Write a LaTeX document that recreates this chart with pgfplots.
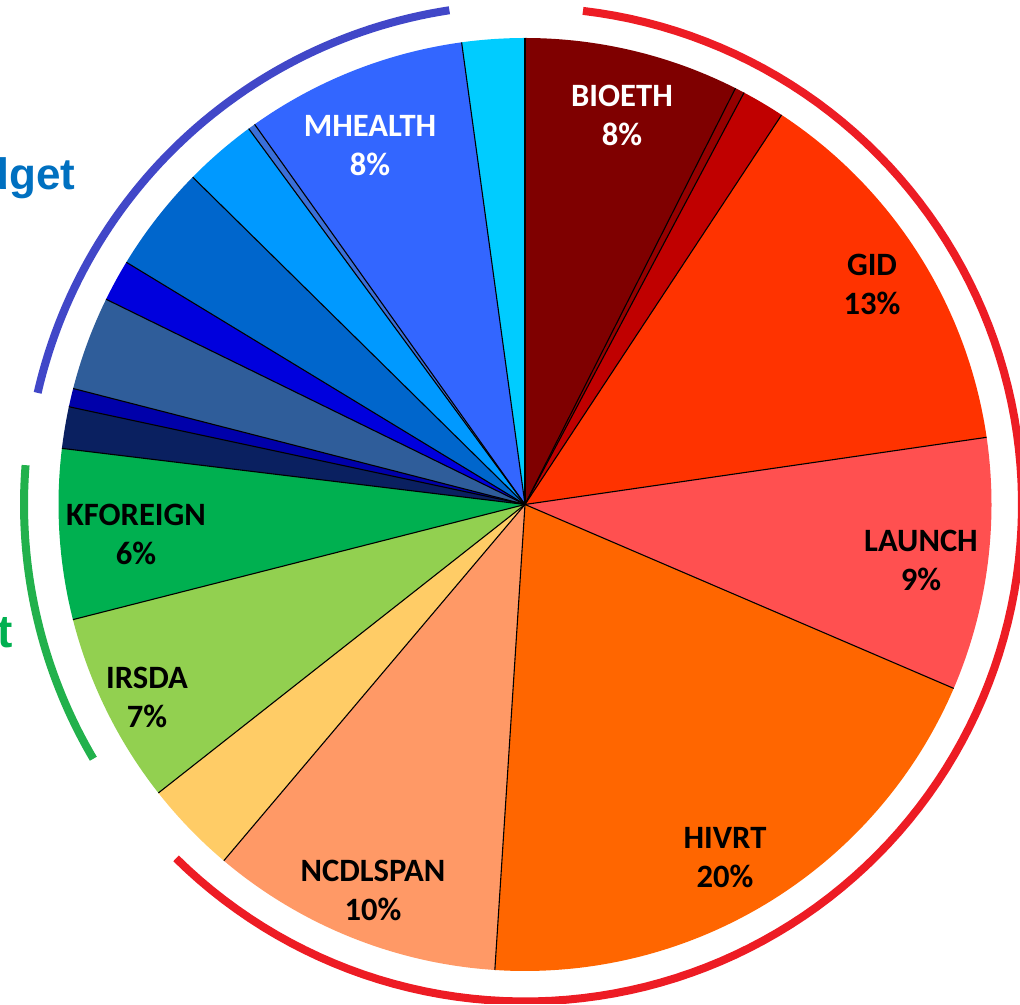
\documentclass[border=0pt]{standalone}
\usepackage{pgfplots}
\pgfplotsset{compat=1.18}
\usepackage{pgfplotstable}
\usepackage{fontspec}
\setmainfont{Carlito}
\newfontfamily\arialfont{Liberation Sans}

\definecolor{s1}{HTML}{7F0000}
\definecolor{s2}{HTML}{950000}
\definecolor{s3}{HTML}{C00000}
\definecolor{s4}{HTML}{FF3300}
\definecolor{s5}{HTML}{FF5050}
\definecolor{s6}{HTML}{FF6600}
\definecolor{s7}{HTML}{FF9966}
\definecolor{s8}{HTML}{FFCC66}
\definecolor{s9}{HTML}{92D050}
\definecolor{s10}{HTML}{00B050}
\definecolor{s11}{HTML}{0A2060}
\definecolor{s12}{HTML}{0000AA}
\definecolor{s13}{HTML}{2F5D9A}
\definecolor{s14}{HTML}{0000DD}
\definecolor{s15}{HTML}{0066CC}
\definecolor{s16}{HTML}{0099FF}
\definecolor{s17}{HTML}{3A6FD8}
\definecolor{s18}{HTML}{3366FF}
\definecolor{s19}{HTML}{00CCFF}
\definecolor{arcred}{HTML}{ED1C24}
\definecolor{arcblue}{HTML}{4147C8}
\definecolor{arcgreen}{HTML}{22B14C}
\definecolor{txtblue}{HTML}{0070C0}
\definecolor{txtgreen}{HTML}{00B050}

\pgfplotstableread{
pct col
7.45 s1
0.33 s2
1.49 s3
13.43 s4
8.75 s5
19.58 s6
10.14 s7
3.22 s8
6.64 s9
5.89 s10
1.44 s11
0.64 s12
3.25 s13
1.44 s14
3.69 s15
2.53 s16
0.25 s17
7.67 s18
2.17 s19
}\slices

\begin{document}
\begin{tikzpicture}
\begin{axis}[
  width=510pt, height=502pt, scale only axis,
  xmin=0, xmax=1020, ymin=0, ymax=1004,
  hide axis, clip=true,
]
% wedges
\def\cum{0}
\pgfplotsforeachungrouped \i in {0,...,18}{%
  \pgfplotstablegetelem{\i}{pct}\of\slices \let\p\pgfplotsretval
  \pgfplotstablegetelem{\i}{col}\of\slices \let\c\pgfplotsretval
  \pgfmathsetmacro\a{90-3.6*\cum}
  \pgfmathsetmacro\b{90-3.6*(\cum+\p)}
  \edef\temp{\noexpand\addplot[fill=\c, draw=none, domain=\b:\a, samples=80] ({525+466.5*cos(x)},{499.5+466.5*sin(x)}) -- (axis cs:525,499.5) -- cycle;}
  \temp
  \pgfmathsetmacro\cum{\cum+\p}
}
% radial boundaries
\def\cum{0}
\pgfplotsforeachungrouped \i in {0,...,18}{%
  \pgfplotstablegetelem{\i}{pct}\of\slices \let\p\pgfplotsretval
  \pgfmathsetmacro\a{90-3.6*\cum}
  \edef\temp{\noexpand\addplot[black, line width=0.55pt, domain=0:1, samples=2] ({525+466.5*x*cos(\a)},{499.5+466.5*x*sin(\a)});}
  \temp
  \pgfmathsetmacro\cum{\cum+\p}
}
% outer arcs
\addplot[arcred, line width=4pt, domain=-134.6:83.3, samples=120] ({525+497*cos(x)},{499.5+497*sin(x)});
\addplot[arcblue, line width=4pt, domain=98.7:167.1, samples=60] ({525+500*cos(x)},{499.5+500*sin(x)});
\addplot[arcgreen, line width=4pt, domain=175.5:210.5, samples=40] ({525+501*cos(x)},{499.5+501*sin(x)});

\coordinate (bud) at (axis cs:76,814);
\coordinate (gbud) at (axis cs:13,356);

\begin{scope}[every node/.style={align=center, font=\fontsize{16.3}{19.5}\selectfont\bfseries}]
\node[text=white] at (axis cs:622,889) {BIOETH\\8\%};
\node[text=white] at (axis cs:370,858) {MHEALTH\\8\%};
\node at (axis cs:872,720) {GID\\13\%};
\node at (axis cs:921,444) {LAUNCH\\9\%};
\node at (axis cs:725,146) {HIVRT\\20\%};
\node at (axis cs:373,114) {NCDLSPAN\\10\%};
\node at (axis cs:147,307) {IRSDA\\7\%};
\node at (axis cs:136,470) {KFOREIGN\\6\%};
\end{scope}
\end{axis}
\begin{scope}
\clip (current axis.south west) rectangle (current axis.north east);
\node[anchor=base east, inner sep=0pt, text=txtblue, font=\arialfont\fontsize{22}{26}\selectfont\bfseries] at (bud) {Budget};
\node[anchor=base east, inner sep=0pt, text=txtgreen, font=\arialfont\fontsize{23}{27}\selectfont\bfseries] at (gbud) {Budget};
\end{scope}
\pgfresetboundingbox
\path[use as bounding box] (current axis.south west) rectangle (current axis.north east);
\end{tikzpicture}
\end{document}
